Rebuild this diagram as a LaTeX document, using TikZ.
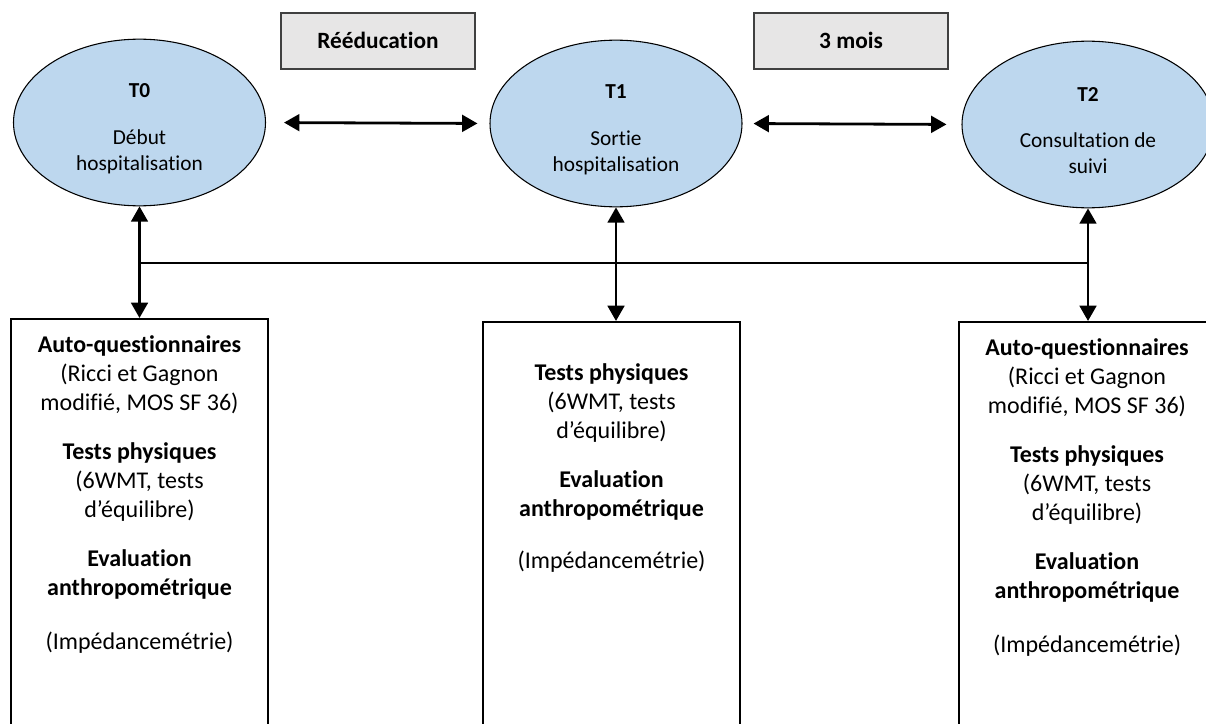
\documentclass[tikz,border=0pt]{standalone}
\usepackage{fontspec}
\setmainfont{Carlito}[Ligatures=NoCommon]
\usetikzlibrary{shapes.geometric,arrows.meta}
\definecolor{ellfill}{HTML}{BDD7EE}
\definecolor{topfill}{HTML}{E7E6E6}
\begin{document}
\begin{tikzpicture}[x=0.75pt,y=-0.75pt,
  timept/.style={ellipse,draw=black,line width=0.8pt,fill=ellfill,inner sep=0pt,
    minimum width=189pt,minimum height=125pt},
  timetext/.style={inner sep=0pt,align=center,font=\fontsize{16}{19.5}\selectfont},
  periodbox/.style={rectangle,draw=black!75,line width=1.1pt,fill=topfill,inner sep=0pt,
    minimum width=145.5pt,minimum height=42pt,font=\fontsize{17.5}{20}\selectfont\bfseries},
  evalbox/.style={rectangle,draw=black,line width=1.4pt,fill=white,inner sep=0pt,
    minimum width=193pt,minimum height=320pt,anchor=north},
  evaltext/.style={anchor=north,inner sep=0pt,align=center,
    font=\fontsize{18}{21.8}\selectfont},
  linkarrow/.style={{Triangle[length=11.5pt,width=12.5pt]}-{Triangle[length=11.5pt,width=12.5pt]},line width=2.1pt,black},
  thinline/.style={line width=0.8pt,black}
]
\useasboundingbox (0,0) rectangle (1206,724);
\clip (0,0) rectangle (1206,724);

% period boxes
\node[periodbox] (reed) at (378,41) {\raisebox{1.5pt}{Rééducation}};
\node[periodbox] (mois) at (851,41) {\raisebox{1.5pt}{3 mois}};

% time points
\node[timept] (T0) at (139.5,122.5) {};
\node[timept] (T1) at (616,123.5) {};
\node[timept] (T2) at (1088,124.5) {};
\node[timetext] (T0t) at ([yshift=-4.5pt]T0.center) {\textbf{T0}\\[15.5pt]Début\\hospitalisation};
\node[timetext] (T1t) at ([yshift=-4.5pt]T1.center) {\textbf{T1}\\[15.5pt]Sortie\\hospitalisation};
\node[timetext] (T2t) at ([yshift=-4.5pt]T2.center) {\textbf{T2}\\[15.5pt]Consultation de\\suivi};

% evaluation boxes
\node[evalbox] (b0) at (139.5,318) {};
\node[evalbox] (b1) at (611.5,321) {};
\node[evalbox] (b2) at (1088,321) {};

\node[evaltext] (t0) at (139.5,335) {\textbf{Auto-questionnaires}\\(Ricci et Gagnon\\modifié, MOS SF 36)\\[15pt]
  \textbf{Tests physiques}\\(6WMT, tests\\d’équilibre)\\[15pt]
  \textbf{Evaluation}\\\textbf{anthropométrique}\\[19pt](Impédancemétrie)};
\node[evaltext] (t1) at (611.5,363) {\textbf{Tests physiques}\\(6WMT, tests\\d’équilibre)\\[15pt]
  \textbf{Evaluation}\\\textbf{anthropométrique}\\[17pt](Impédancemétrie)};
\node[evaltext] (t2) at (1087,338) {\textbf{Auto-questionnaires}\\(Ricci et Gagnon\\modifié, MOS SF 36)\\[15pt]
  \textbf{Tests physiques}\\(6WMT, tests\\d’équilibre)\\[15pt]
  \textbf{Evaluation}\\\textbf{anthropométrique}\\[19pt](Impédancemétrie)};

% horizontal arrows between time points
\draw[linkarrow,shorten <=13.5pt,shorten >=9pt] (T0.east) -- (T1.west);
\draw[linkarrow,shorten <=8.25pt,shorten >=11.25pt] (T1.east) -- (T2.west);

% vertical arrows
\draw[linkarrow] (T0.south) -- (T0.south |- b0.north);
\draw[linkarrow] (T1.south) -- (T1.south |- b1.north);
\draw[linkarrow] (T2.south) -- (T2.south |- b2.north);

% thin horizontal link
\coordinate (h0) at (T0.south |- 0,263);
\coordinate (h2) at (T2.south |- 0,263);
\draw[thinline] (h0) -- (h2);
\end{tikzpicture}
\end{document}
